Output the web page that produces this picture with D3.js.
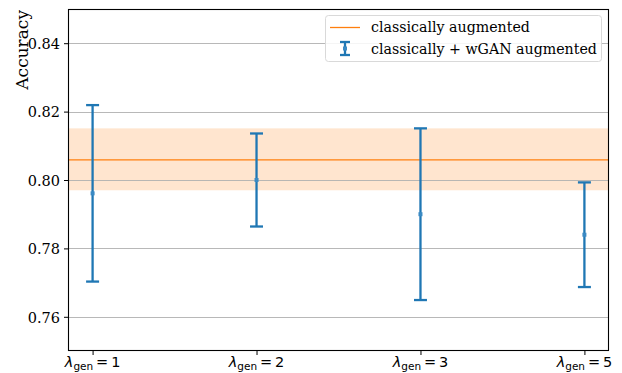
<!DOCTYPE html>
<html>
<head>
<meta charset="utf-8">
<script src="https://cdn.jsdelivr.net/npm/d3@7"></script>
<style>
  body { margin: 0; background: #fff; }
  svg { display: block; }
</style>
</head>
<body>
<svg id="chart" width="622" height="373"></svg>
<script>
// Generator weights on the x axis
const lambdaGen = ["1", "2", "3", "5"];
// Mean accuracy and half-width of the error bar for each weight
const ganMean = [0.7961, 0.8000, 0.7900, 0.7840];
const ganErr = [0.0258, 0.0136, 0.0251, 0.0153];
// Baseline: classically augmented mean and its band
const baseMean = 0.8059;
const baseLow = 0.7970;
const baseHigh = 0.8151;
const yTicks = [0.76, 0.78, 0.80, 0.82, 0.84];

const svg = d3.select("#chart");
const margin = { left: 68, right: 13, top: 9, bottom: 22 };
const W = 622, H = 373;
const x0 = margin.left, x1 = W - margin.right;
const y0 = margin.top, y1 = H - margin.bottom;

const x = d3.scaleLinear().domain([-0.15, lambdaGen.length - 1 + 0.15]).range([x0, x1]);
const y = d3.scaleLinear().domain([0.75, 0.85]).range([y1, y0]);

const blue = "#1f77b4", orange = "#ff7f0e";
const serif = "'DejaVu Serif', serif";
const sans = "'DejaVu Sans', sans-serif";
const barW = 2.3;

// shaded band for the baseline spread
svg.append("rect")
  .attr("x", x0).attr("width", x1 - x0)
  .attr("y", y(baseHigh)).attr("height", y(baseLow) - y(baseHigh))
  .attr("fill", orange).attr("fill-opacity", 0.2);

// horizontal grid
svg.append("g").selectAll("line").data(yTicks).join("line")
  .attr("x1", x0).attr("x2", x1)
  .attr("y1", d => Math.round(y(d)) + 0.5).attr("y2", d => Math.round(y(d)) + 0.5)
  .attr("stroke", "#b0b0b0").attr("stroke-width", 0.9);

// baseline mean
svg.append("line")
  .attr("x1", x0).attr("x2", x1)
  .attr("y1", y(baseMean)).attr("y2", y(baseMean))
  .attr("stroke", orange).attr("stroke-width", 1.3);

// error bars
const bars = svg.append("g").selectAll("g").data(lambdaGen).join("g");
const cap = 6.5;
bars.append("line")
  .attr("x1", (d, i) => x(i)).attr("x2", (d, i) => x(i))
  .attr("y1", (d, i) => y(ganMean[i] + ganErr[i])).attr("y2", (d, i) => y(ganMean[i] - ganErr[i]))
  .attr("stroke", blue).attr("stroke-width", barW);
bars.append("line")
  .attr("x1", (d, i) => x(i) - cap).attr("x2", (d, i) => x(i) + cap)
  .attr("y1", (d, i) => y(ganMean[i] + ganErr[i])).attr("y2", (d, i) => y(ganMean[i] + ganErr[i]))
  .attr("stroke", blue).attr("stroke-width", barW);
bars.append("line")
  .attr("x1", (d, i) => x(i) - cap).attr("x2", (d, i) => x(i) + cap)
  .attr("y1", (d, i) => y(ganMean[i] - ganErr[i])).attr("y2", (d, i) => y(ganMean[i] - ganErr[i]))
  .attr("stroke", blue).attr("stroke-width", barW);
bars.append("rect")
  .attr("x", (d, i) => x(i) - 2).attr("y", (d, i) => y(ganMean[i]) - 2)
  .attr("width", 4).attr("height", 4)
  .attr("fill", "#3a8ac4");

// frame
svg.append("rect")
  .attr("x", x0 + 0.5).attr("y", y0 + 0.5)
  .attr("width", x1 - x0 - 1).attr("height", y1 - y0 - 1)
  .attr("fill", "none").attr("stroke", "#000").attr("stroke-width", 1.1);

// y axis
const yAxis = svg.append("g")
  .attr("transform", `translate(${x0},0)`)
  .call(d3.axisLeft(y).tickValues(yTicks).tickFormat(d3.format(".2f")).tickSize(4).tickPadding(4));
yAxis.attr("font-family", serif);
yAxis.select(".domain").remove();
yAxis.selectAll("text").attr("font-family", serif).attr("font-size", 14.5).attr("fill", "#000").attr("dy", "0.36em");

// x axis with mathtext-like labels
const xAxis = svg.append("g")
  .attr("transform", `translate(0,${y1})`)
  .call(d3.axisBottom(x).tickValues(d3.range(lambdaGen.length)).tickSize(4).tickFormat(""));
xAxis.select(".domain").remove();
const xl = svg.append("g").selectAll("text").data(lambdaGen).join("text")
  .attr("x", (d, i) => x(i)).attr("y", 367)
  .attr("text-anchor", "middle")
  .attr("font-family", sans).attr("font-size", 14.5).attr("fill", "#000");
xl.append("tspan").attr("font-style", "italic").text("λ");
xl.append("tspan").attr("font-size", 10.5).attr("dy", 3).text("gen");
xl.append("tspan").attr("dy", -3).text("\u2009=\u2009");
xl.append("tspan").text(d => d);

// y label
svg.append("text")
  .attr("transform", `translate(28,10) rotate(-90)`)
  .attr("text-anchor", "end")
  .attr("font-family", serif).attr("font-size", 17).attr("fill", "#000")
  .text("Accuracy");

// legend
const lg = svg.append("g");
lg.append("rect")
  .attr("x", 325.5).attr("y", 15.5).attr("width", 276).attr("height", 46)
  .attr("rx", 3).attr("fill", "#fff").attr("fill-opacity", 0.85)
  .attr("stroke", "#d9d9d9").attr("stroke-width", 1);
lg.append("line").attr("x1", 330).attr("x2", 360).attr("y1", 27.5).attr("y2", 27.5)
  .attr("stroke", orange).attr("stroke-width", 1.3);
const lx = 345;
lg.append("line").attr("x1", lx).attr("x2", lx).attr("y1", 42).attr("y2", 55).attr("stroke", blue).attr("stroke-width", barW);
lg.append("line").attr("x1", lx - 5).attr("x2", lx + 5).attr("y1", 42).attr("y2", 42).attr("stroke", blue).attr("stroke-width", barW);
lg.append("line").attr("x1", lx - 5).attr("x2", lx + 5).attr("y1", 55).attr("y2", 55).attr("stroke", blue).attr("stroke-width", barW);
lg.append("rect").attr("x", lx - 2).attr("y", 46.5).attr("width", 4).attr("height", 4).attr("fill", "#3a8ac4");
lg.append("text").attr("x", 371).attr("y", 32)
  .attr("font-family", serif).attr("font-size", 14.2).attr("fill", "#000").text("classically augmented");
lg.append("text").attr("x", 371).attr("y", 53.5)
  .attr("font-family", serif).attr("font-size", 14.2).attr("fill", "#000").text("classically + wGAN augmented");
</script>
</body>
</html>
